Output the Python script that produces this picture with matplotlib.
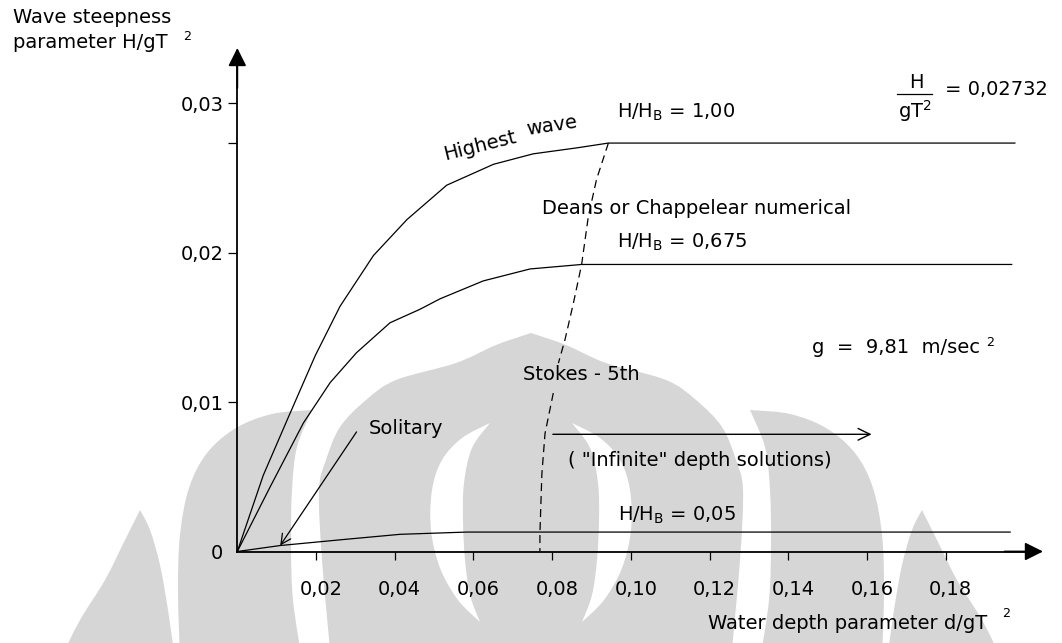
import numpy as np
import matplotlib
matplotlib.use("Agg")
import matplotlib.pyplot as plt
from matplotlib.path import Path
from matplotlib.patches import PathPatch
from matplotlib.transforms import ScaledTranslation

plt.rcParams['font.family'] = ['DejaVu Sans']
plt.rcParams['mathtext.fontset'] = 'dejavusans'

# deep water limit of the wave steepness
hb_max = 0.02732

# H/HB = 1.00 (highest wave)
highest_x = [0, 0.0066, 0.0130, 0.0198, 0.0261, 0.0346, 0.0431, 0.0532, 0.0651, 0.0752, 0.0863, 0.0943, 0.1976]
highest_y = [0, 0.0051, 0.0090, 0.0131, 0.0164, 0.0198, 0.0222, 0.0245, 0.0259, 0.0266, 0.0270, hb_max, hb_max]

# H/HB = 0.675
hb675_x = [0, 0.0083, 0.0168, 0.0236, 0.0303, 0.0388, 0.0464, 0.0515, 0.0625, 0.0744, 0.0875, 0.1968]
hb675_y = [0, 0.0043, 0.0086, 0.0113, 0.0133, 0.0153, 0.0162, 0.0169, 0.0181, 0.0189, 0.0192, 0.0192]

# H/HB = 0.05
hb005_x = [0, 0.0109, 0.0269, 0.0414, 0.0583, 0.1964]
hb005_y = [0, 0.0004, 0.0008, 0.00115, 0.0013, 0.0013]

# Stokes 5th / Deans boundary (split around the "Stokes - 5th" label)
stokes_top_x = [0.0943, 0.0913, 0.0892, 0.0875, 0.0854, 0.0833, 0.0816]
stokes_top_y = [hb_max, 0.0249, 0.0224, 0.0192, 0.0166, 0.0142, 0.0126]
stokes_bot_x = [0.0803, 0.0782, 0.0774, 0.0769, 0.0769]
stokes_bot_y = [0.0106, 0.0079, 0.0052, 0.0012, 0.0]

solitary_tail = (0.0303, 0.0080)
solitary_head = (0.0109, 0.0004)
infinite_from = (0.0802, 0.00784)
infinite_to = (0.1612, 0.00784)

x_ticks = [0.02, 0.04, 0.06, 0.08, 0.10, 0.12, 0.14, 0.16, 0.18]
x_tick_labels = ['0,02', '0,04', '0,06', '0,08', '0,10', '0,12', '0,14', '0,16', '0,18']
y_ticks = [0, 0.01, 0.02, 0.03]
y_tick_labels = ['0', '0,01', '0,02', '0,03']

W, H = 1062, 643
fig = plt.figure(figsize=(W / 100, H / 100), dpi=100)

# background layer in pixel units for the watermark and free labels
bg = fig.add_axes([0, 0, 1, 1])
bg.set_xlim(0, W)
bg.set_ylim(H, 0)
bg.axis('off')

GREY = '#d6d6d6'


def smooth(points):
    pts = np.asarray(points, float)
    n = len(pts)
    verts, codes = [], []
    for i in range(n - 1):
        p0, p1, p2 = pts[max(i - 1, 0)], pts[i], pts[i + 1]
        p3 = pts[min(i + 2, n - 1)]
        verts += [p1 + (p2 - p0) / 6, p2 - (p3 - p1) / 6, p2]
        codes += [Path.CURVE4] * 3
    return verts, codes


def blob(edges, color):
    verts, codes = [edges[0][0]], [Path.MOVETO]
    for e in edges:
        v, c = smooth(e)
        verts += v
        codes += c
    verts.append(edges[0][0])
    codes.append(Path.CLOSEPOLY)
    bg.add_patch(PathPatch(Path(verts, codes), fc=color, ec='none', zorder=0))


def mirror(edges):
    return [[(W - x, y) for x, y in e] for e in edges]


wing = [[(312, 410), (272, 414), (236, 428), (207, 453), (189, 488), (180, 535), (178, 590), (180, 660)],
        [(180, 660), (302, 660)],
        [(302, 660), (293, 600), (291, 545), (292, 490), (297, 447), (312, 410)]]
spike = [[(140, 510), (125, 540), (105, 580), (80, 620), (60, 660)],
         [(60, 660), (175, 660)],
         [(175, 660), (168, 610), (160, 565), (150, 530), (140, 510)]]
dome_left = [(531, 333), (496, 345), (456, 363), (396, 380), (366, 400), (340, 427),
             (326, 460), (319, 490), (322, 560), (331, 660)]
dome = [dome_left, [dome_left[-1], (W - dome_left[-1][0], 660)],
        [(W - x, y) for x, y in dome_left[::-1]]]
crescent = [[(490, 423), (462, 438), (442, 460), (432, 490), (431, 530), (440, 568), (458, 600), (480, 622)],
            [(480, 622), (470, 595), (465, 560), (463, 520), (464, 483), (472, 448), (490, 423)]]

for shape in (wing, spike):
    blob(shape, GREY)
    blob(mirror(shape), GREY)
blob(dome, GREY)
blob(crescent, 'white')
blob(mirror(crescent), 'white')

# main chart axes
ax = fig.add_axes([0, 0, 1, 1])
ax.set_facecolor('none')
ax.set_xlim(-0.06031, 0.20958)
ax.set_ylim(-0.00612, 0.03689)

for side in ('top', 'right'):
    ax.spines[side].set_visible(False)
ax.spines['left'].set_position(('data', 0))
ax.spines['bottom'].set_position(('data', 0))
ax.spines['left'].set_bounds(0, 0.0328)
ax.spines['bottom'].set_bounds(0, 0.2010)
for side in ('left', 'bottom'):
    ax.spines[side].set_linewidth(1.3)

ax.set_xticks(x_ticks)
ax.set_xticklabels(x_tick_labels)
ax.set_yticks(y_ticks)
ax.set_yticklabels(y_tick_labels)
ax.set_yticks([hb_max], minor=True)
ax.tick_params(axis='x', which='both', direction='out', length=5.8, width=0.9, pad=14.5, labelsize=14)
ax.tick_params(axis='y', which='both', direction='out', length=6.5, width=0.9, pad=3.6, labelsize=14)
ax.yaxis.get_major_ticks()[0].tick1line.set_visible(False)
shift = ScaledTranslation(0.05, 0, fig.dpi_scale_trans)
for lab in ax.get_xticklabels():
    lab.set_transform(lab.get_transform() + shift)

# axis arrowheads
head = dict(arrowstyle='-|>,head_length=1.1,head_width=0.55', mutation_scale=10,
            color='black', lw=1.3, shrinkA=0, shrinkB=0)
ax.annotate('', xy=(0.20475, 0), xytext=(0.195, 0), arrowprops=head)
ax.annotate('', xy=(0, 0.03368), xytext=(0, 0.031), arrowprops=head)

line_kw = dict(color='black', lw=0.9, solid_joinstyle='round')
ax.plot(highest_x, highest_y, **line_kw)
ax.plot(hb675_x, hb675_y, **line_kw)
ax.plot(hb005_x, hb005_y, **line_kw)
ax.plot(stokes_top_x, stokes_top_y, color='black', lw=0.9, dashes=(6.4, 4))
ax.plot(stokes_bot_x, stokes_bot_y, color='black', lw=0.9, dashes=(6.4, 4))

ax.annotate('', xy=solitary_head, xytext=solitary_tail,
            arrowprops=dict(arrowstyle='->,head_length=0.6,head_width=0.3', mutation_scale=12,
                            color='black', lw=0.9, shrinkA=0, shrinkB=0))
ax.annotate('', xy=infinite_to, xytext=infinite_from,
            arrowprops=dict(arrowstyle='->,head_length=0.72,head_width=0.35', mutation_scale=12,
                            color='black', lw=1.0, shrinkA=0, shrinkB=0))

# labels (pixel positions, baseline aligned)
fs = 14
labels = [
    ('Wave steepness', 13, 23.3, fs),
    ('parameter H/gT', 13, 48.3, fs),
    ('2', 183, 40, 9.2),
    (r'H/H$_\mathregular{B}$ = 1,00', 617, 118, fs),
    ('= 0,02732', 945, 95, fs),
    ('Deans or Chappelear numerical', 542, 213.5, fs),
    (r'H/H$_\mathregular{B}$ = 0,675', 617, 247.5, fs),
    ('g  =  9,81  m/sec', 812, 353, fs),
    ('2', 986, 346, 9.2),
    ('Stokes - 5th', 523, 380, fs),
    ('Solitary', 369, 433.5, fs),
    ('( "Infinite" depth solutions)', 568, 466, fs),
    (r'H/H$_\mathregular{B}$ = 0,05', 618, 521, fs),
    ('Water depth parameter d/gT', 708, 629, fs),
    ('2', 1002, 617, 9.2),
]
for s, x, y, size in labels:
    bg.text(x, y, s, fontsize=size, ha='left', va='baseline', color='black')

# H over gT^2 fraction
bg.text(916, 88.3, 'H', fontsize=fs, ha='center', va='baseline')
bg.plot([897, 932], [93.5, 93.5], color='black', lw=0.9)
bg.text(915, 118, r'gT$^2$', fontsize=fs, ha='center', va='baseline')

# curved label along the highest wave line
bg.text(445, 160, 'Highest', fontsize=fs, rotation=14, ha='left', va='baseline',
        rotation_mode='anchor')
bg.text(527, 135, 'wave', fontsize=fs, rotation=8.5, ha='left', va='baseline',
        rotation_mode='anchor')

fig.savefig('out.png', dpi=100)
